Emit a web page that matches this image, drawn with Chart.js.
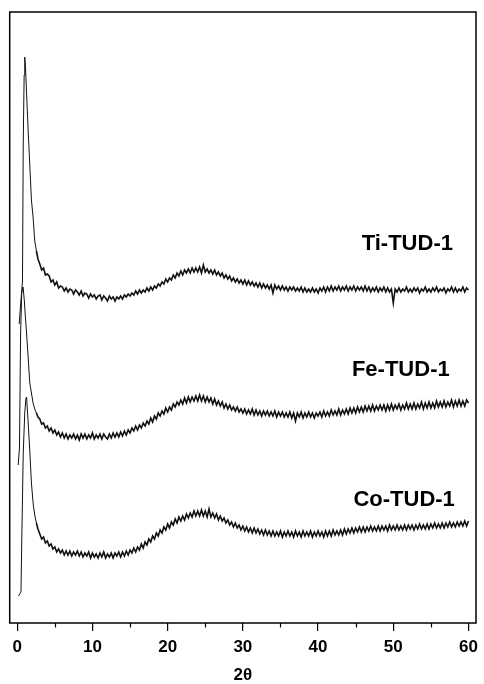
<!DOCTYPE html>
<html>
<head>
<meta charset="utf-8">
<script src="https://cdn.jsdelivr.net/npm/chart.js@4"></script>
<style>
  html, body { margin: 0; padding: 0; background: #fff; }
  canvas { display: block; }
</style>
</head>
<body>
<canvas id="xrd" width="484" height="684"></canvas>
<script>
// x ticks and sample names
let xTicks = [0, 10, 20, 30, 40, 50, 60];
let minorTicks = [5, 15, 25, 35, 45, 55];
let sampleNames = ["Ti-TUD-1", "Fe-TUD-1", "Co-TUD-1"];
let labelX = [45.8, 44.5, 44.7];
let labelY = [373, 247, 117];

// low-angle peak part of each pattern
let tiPeakX = [0.26, 0.45, 0.7, 0.8, 0.92, 1.0, 1.1, 1.24, 1.45, 1.67, 1.89, 2.11, 2.33, 2.55, 2.76];
let tiPeakY = [299, 318, 342, 480, 548, 566, 556, 530, 493, 458, 423, 406, 382, 372, 364];
let fePeakX = [0.13, 0.3, 0.45, 0.6, 0.78, 0.95, 1.05, 1.24, 1.45, 1.67, 1.89, 2.11, 2.33, 2.55, 2.76];
let fePeakY = [158, 175, 290, 330, 336, 322, 310, 290, 266, 240, 230, 220, 214, 210, 206];
let coPeakX = [0.16, 0.5, 0.6, 0.8, 1.0, 1.15, 1.24, 1.45, 1.67, 1.89, 2.11, 2.33, 2.55, 2.76];
let coPeakY = [27, 31, 80, 170, 210, 224, 226, 201, 172, 140, 120, 108, 100, 94];

// rest of the patterns, 2theta 3 ... 60, one row per degree
let tailX = [
  3, 3.25, 3.5, 3.75, 4, 4.25, 4.5, 4.75, 5, 5.25, 5.5, 5.75, 6, 6.25, 6.5, 6.75,
  7, 7.25, 7.5, 7.75, 8, 8.25, 8.5, 8.75, 9, 9.25, 9.5, 9.75, 10, 10.25, 10.5, 10.75,
  11, 11.25, 11.5, 11.75, 12, 12.25, 12.5, 12.75, 13, 13.25, 13.5, 13.75, 14, 14.25, 14.5, 14.75,
  15, 15.25, 15.5, 15.75, 16, 16.25, 16.5, 16.75, 17, 17.25, 17.5, 17.75, 18, 18.25, 18.5, 18.75,
  19, 19.25, 19.5, 19.75, 20, 20.25, 20.5, 20.75, 21, 21.25, 21.5, 21.75, 22, 22.25, 22.5, 22.75,
  23, 23.25, 23.5, 23.75, 24, 24.25, 24.5, 24.75, 25, 25.25, 25.5, 25.75, 26, 26.25, 26.5, 26.75,
  27, 27.25, 27.5, 27.75, 28, 28.25, 28.5, 28.75, 29, 29.25, 29.5, 29.75, 30, 30.25, 30.5, 30.75,
  31, 31.25, 31.5, 31.75, 32, 32.25, 32.5, 32.75, 33, 33.25, 33.5, 33.75, 34, 34.25, 34.5, 34.75,
  35, 35.25, 35.5, 35.75, 36, 36.25, 36.5, 36.75, 37, 37.25, 37.5, 37.75, 38, 38.25, 38.5, 38.75,
  39, 39.25, 39.5, 39.75, 40, 40.25, 40.5, 40.75, 41, 41.25, 41.5, 41.75, 42, 42.25, 42.5, 42.75,
  43, 43.25, 43.5, 43.75, 44, 44.25, 44.5, 44.75, 45, 45.25, 45.5, 45.75, 46, 46.25, 46.5, 46.75,
  47, 47.25, 47.5, 47.75, 48, 48.25, 48.5, 48.75, 49, 49.25, 49.5, 49.75, 50, 50.25, 50.5, 50.75,
  51, 51.25, 51.5, 51.75, 52, 52.25, 52.5, 52.75, 53, 53.25, 53.5, 53.75, 54, 54.25, 54.5, 54.75,
  55, 55.25, 55.5, 55.75, 56, 56.25, 56.5, 56.75, 57, 57.25, 57.5, 57.75, 58, 58.25, 58.5, 58.75,
  59, 59.25, 59.5, 59.75, 60];

let tiTail = [
  359, 353, 355, 348, 349, 347, 341, 343, 338, 341, 335, 337, 336, 332, 335, 331,
  334, 333, 329, 333, 331, 328, 332, 327, 330, 329, 325, 329, 326, 328, 324, 327,
  328, 323, 327, 325, 322, 327, 324, 326, 322, 326, 324, 327, 324, 328, 326, 329,
  327, 330, 328, 332, 329, 333, 330, 333, 331, 335, 332, 336, 333, 337, 335, 339,
  337, 341, 339, 344, 341, 345, 343, 348, 345, 350, 347, 352, 348, 353, 350, 354,
  350, 355, 351, 355, 351, 356, 350, 358, 351, 354, 350, 353, 349, 353, 348, 351,
  347, 350, 345, 348, 344, 347, 342, 345, 341, 344, 340, 343, 339, 343, 338, 342,
  338, 341, 337, 340, 336, 340, 335, 339, 335, 338, 334, 338, 330, 338, 334, 337,
  333, 337, 333, 336, 332, 336, 333, 336, 332, 335, 332, 336, 331, 335, 331, 334,
  331, 335, 331, 334, 330, 335, 332, 336, 331, 336, 332, 337, 332, 336, 333, 337,
  332, 336, 333, 337, 332, 336, 333, 337, 332, 336, 333, 336, 332, 337, 332, 336,
  331, 335, 332, 336, 331, 335, 332, 336, 331, 335, 331, 334, 320, 334, 331, 335,
  331, 334, 332, 336, 331, 334, 331, 335, 332, 335, 330, 334, 332, 336, 331, 334,
  331, 335, 332, 336, 331, 334, 332, 335, 330, 334, 332, 336, 331, 335, 331, 334,
  332, 336, 331, 335, 333];

let feTail = [
  204, 199, 200, 195, 197, 192, 195, 190, 193, 188, 191, 186, 190, 185, 189, 184,
  188, 185, 189, 184, 188, 183, 189, 185, 189, 184, 188, 185, 190, 184, 188, 185,
  189, 184, 189, 186, 184, 189, 185, 190, 186, 190, 186, 191, 187, 192, 188, 193,
  190, 195, 192, 197, 193, 198, 195, 200, 197, 202, 199, 205, 201, 207, 204, 210,
  207, 212, 209, 215, 211, 216, 213, 219, 216, 221, 218, 223, 219, 225, 220, 226,
  221, 226, 222, 227, 222, 228, 222, 227, 221, 226, 221, 225, 219, 224, 218, 222,
  217, 221, 215, 219, 214, 218, 213, 216, 212, 216, 211, 214, 210, 214, 209, 213,
  209, 214, 208, 213, 208, 212, 207, 212, 208, 212, 207, 211, 207, 212, 206, 211,
  207, 211, 206, 210, 206, 211, 205, 210, 202, 210, 206, 211, 205, 210, 206, 211,
  206, 210, 205, 210, 207, 211, 206, 212, 207, 211, 207, 213, 208, 212, 208, 214,
  208, 213, 209, 214, 209, 215, 210, 215, 210, 216, 211, 216, 211, 217, 212, 217,
  212, 218, 212, 217, 213, 218, 213, 218, 212, 218, 213, 219, 213, 218, 214, 219,
  213, 218, 214, 220, 214, 219, 214, 220, 214, 219, 215, 221, 214, 220, 215, 221,
  215, 220, 215, 222, 216, 221, 216, 222, 216, 221, 217, 223, 216, 222, 217, 223,
  217, 222, 217, 223, 220];

let coTail = [
  89, 84, 86, 80, 82, 77, 79, 74, 76, 71, 74, 70, 73, 68, 72, 68,
  72, 67, 71, 68, 72, 67, 71, 66, 70, 67, 71, 65, 70, 66, 69, 65,
  70, 66, 71, 65, 69, 66, 70, 65, 70, 67, 71, 66, 71, 67, 72, 68,
  73, 70, 75, 71, 76, 73, 79, 75, 81, 78, 84, 81, 87, 84, 90, 87,
  93, 90, 96, 93, 99, 95, 101, 98, 104, 100, 106, 102, 107, 103, 109, 105,
  110, 106, 112, 107, 112, 107, 113, 107, 112, 106, 114, 106, 110, 105, 109, 103,
  107, 102, 105, 100, 103, 98, 101, 96, 100, 95, 98, 93, 97, 92, 96, 91,
  95, 90, 95, 90, 94, 89, 93, 88, 93, 88, 92, 87, 92, 87, 91, 87,
  92, 86, 91, 87, 92, 87, 91, 86, 92, 87, 91, 86, 92, 87, 91, 87,
  92, 86, 91, 87, 92, 87, 91, 86, 92, 87, 92, 87, 93, 88, 92, 88,
  93, 88, 94, 89, 94, 90, 95, 90, 95, 91, 96, 91, 96, 91, 96, 92,
  97, 92, 96, 92, 97, 92, 97, 93, 97, 92, 98, 93, 97, 93, 98, 93,
  97, 93, 98, 93, 98, 94, 98, 93, 98, 94, 99, 94, 98, 94, 99, 94,
  99, 95, 100, 95, 99, 95, 100, 95, 100, 96, 101, 96, 100, 96, 101, 97,
  101, 97, 102, 97, 102];

function toPoints(px, py, ty) {
  let pts = px.map((x, i) => ({ x: x, y: py[i] }));
  tailX.forEach((x, i) => pts.push({ x: x, y: ty[i] }));
  return pts;
}

// thin line on the sharp peak, heavier on the noisy tail
let traceStyle = {
  showLine: true,
  borderColor: "#111",
  borderWidth: 1,
  pointRadius: 0,
  tension: 0,
  fill: false,
  segment: { borderWidth: c => (c.p0.parsed.x < 2.5 ? 1 : 1.6) }
};

let frameAndText = {
  id: "frameAndText",
  afterDraw(chart) {
    let ctx = chart.ctx;
    let a = chart.chartArea;
    let xs = chart.scales.x;
    let ys = chart.scales.y;
    ctx.save();
    ctx.strokeStyle = "#000";
    ctx.lineWidth = 1.5;
    ctx.strokeRect(a.left, a.top, a.right - a.left, a.bottom - a.top);
    ctx.lineWidth = 1.2;
    ctx.beginPath();
    minorTicks.forEach(v => {
      let px = Math.round(xs.getPixelForValue(v)) + 0.5;
      ctx.moveTo(px, a.bottom);
      ctx.lineTo(px, a.bottom + 4.5);
    });
    ctx.stroke();
    ctx.fillStyle = "#000";
    ctx.font = "bold 22px 'Liberation Sans', Arial, sans-serif";
    ctx.textBaseline = "alphabetic";
    ctx.textAlign = "left";
    sampleNames.forEach((name, i) => {
      ctx.fillText(name, xs.getPixelForValue(labelX[i]), ys.getPixelForValue(labelY[i]));
    });
    ctx.restore();
  }
};

new Chart("xrd", {
  type: "scatter",
  data: {
    datasets: [
      Object.assign({ label: sampleNames[0], data: toPoints(tiPeakX, tiPeakY, tiTail) }, traceStyle),
      Object.assign({ label: sampleNames[1], data: toPoints(fePeakX, fePeakY, feTail) }, traceStyle),
      Object.assign({ label: sampleNames[2], data: toPoints(coPeakX, coPeakY, coTail) }, traceStyle)
    ]
  },
  options: {
    responsive: false,
    animation: false,
    devicePixelRatio: 1,
    layout: { padding: { left: 9.7, right: 3.1, top: 12, bottom: 0 } },
    plugins: { legend: { display: false }, tooltip: { enabled: false } },
    scales: {
      x: {
        type: "linear",
        min: -1,
        max: 61,
        afterBuildTicks: s => { s.ticks = xTicks.map(v => ({ value: v })); },
        afterFit: s => { s.height = 61; },
        border: { display: false },
        grid: { drawOnChartArea: false, drawTicks: true, tickLength: 8, color: "#000", lineWidth: 1.2 },
        ticks: {
          color: "#000",
          padding: 6,
          maxRotation: 0,
          font: { family: "'Liberation Sans', Arial, sans-serif", size: 17, weight: "bold" }
        },
        title: {
          display: true,
          text: "2θ",
          color: "#000",
          padding: { top: 0, bottom: 0 },
          font: { family: "'Liberation Sans', Arial, sans-serif", size: 17, weight: "bold", lineHeight: 1 }
        }
      },
      y: { display: false, min: 0, max: 611 }
    }
  },
  plugins: [frameAndText]
});
</script>
</body>
</html>
